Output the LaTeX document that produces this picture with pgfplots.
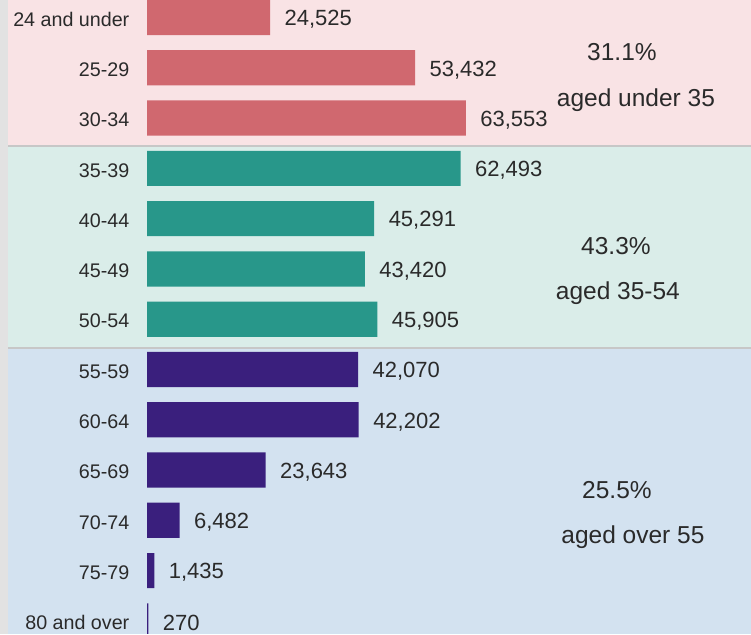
\documentclass[border=0pt]{standalone}
\usepackage{pgfplots}
\pgfplotsset{compat=1.18}
\usepackage{fontspec}
\setmainfont{Liberation Sans}

\definecolor{bgpink}{HTML}{F9E3E5}
\definecolor{bggreen}{HTML}{DAEDE9}
\definecolor{bgblue}{HTML}{D3E2F0}
\definecolor{barred}{HTML}{D0686F}
\definecolor{barteal}{HTML}{28978A}
\definecolor{barpurple}{HTML}{3A1F7D}
\definecolor{txt}{HTML}{2A2A2A}
\definecolor{edge}{HTML}{E2E2E2}

\begin{document}
\begin{tikzpicture}
\begin{axis}[
    set layers,
    width=751pt, height=634pt,
    scale only axis,
    xmin=-29300, xmax=120390,
    ymin=-0.348, ymax=12.257,
    y dir=reverse,
    axis line style={draw=none},
    major tick length=0pt,
    xtick=\empty,
    ytick={0,1,...,12},
    yticklabels={24 and under,25-29,30-34,35-39,40-44,45-49,50-54,55-59,60-64,65-69,70-74,75-79,80 and over},
    yticklabel style={font=\fontsize{19.7}{22}\selectfont, text=txt, anchor=east, xshift=132.8pt, yshift=-2pt},
    xbar, bar width=0.7,
    nodes near coords={\pgfmathprintnumber[fixed,precision=0,1000 sep={,},assume math mode=true]{\pgfplotspointmeta}},
    every node near coord/.append style={font=\fontsize{22}{24}\selectfont, text=txt, anchor=west, xshift=11pt, yshift=-2pt},
    clip=true,
]
% background bands
\begin{pgfonlayer}{axis background}
\fill[bgpink]  (axis cs:-27705,-0.348) rectangle (axis cs:120390,2.555);
\fill[bggreen] (axis cs:-27705,2.555) rectangle (axis cs:120390,6.571);
\fill[bgblue]  (axis cs:-27705,6.571) rectangle (axis cs:120390,12.257);
\fill[edge]    (axis cs:-29300,-0.348) rectangle (axis cs:-27705,12.257);
\draw[black!22, line width=1.4pt] (axis cs:-27705,2.555) -- (axis cs:120390,2.555);
\draw[black!22, line width=1.4pt] (axis cs:-27705,6.571) -- (axis cs:120390,6.571);
\end{pgfonlayer}

\addplot[fill=barred, draw=none, bar shift=0pt] coordinates {
    (24525,0) (53432,1) (63553,2)
};
\addplot[fill=barteal, draw=none, bar shift=0pt] coordinates {
    (62493,3) (45291,4) (43420,5) (45905,6)
};
\addplot[fill=barpurple, draw=none, bar shift=0pt] coordinates {
    (42070,7) (42202,8) (23643,9) (6482,10) (1435,11) (270,12)
};

\node[font=\fontsize{24.5}{26}\selectfont, text=txt] at (axis cs:94680,0.686) {31.1\%};
\node[font=\fontsize{24.5}{26}\selectfont, text=txt] at (axis cs:97470,1.640) {aged under 35};
\node[font=\fontsize{24.5}{26}\selectfont, text=txt] at (axis cs:93480,4.543) {43.3\%};
\node[font=\fontsize{24.5}{26}\selectfont, text=txt] at (axis cs:93880,5.477) {aged 35-54};
\node[font=\fontsize{24.5}{26}\selectfont, text=txt] at (axis cs:93680,9.393) {25.5\%};
\node[font=\fontsize{24.5}{26}\selectfont, text=txt] at (axis cs:96870,10.328) {aged over 55};
\end{axis}
\end{tikzpicture}
\end{document}
